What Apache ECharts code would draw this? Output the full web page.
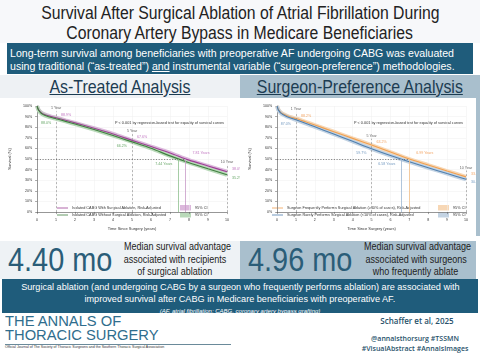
<!DOCTYPE html>
<html><head><meta charset="utf-8">
<script src="https://cdn.jsdelivr.net/npm/echarts@6/dist/echarts.min.js"></script>
<style>
html,body{margin:0;padding:0;background:#fff;}
#page{position:relative;width:480px;height:355px;overflow:hidden;background:#fff;font-family:"Liberation Sans",Arial,sans-serif;}
.abs{position:absolute;}
.sx{display:inline-block;white-space:nowrap;}
</style></head>
<body><div id="page">
  <div class="abs" style="left:0;top:0;width:480px;height:43px;background:#f7f8fa;"></div>
  <div class="abs" style="left:0;top:3px;width:480px;text-align:center;font-size:17.5px;line-height:20px;color:#222;">
    <span class="sx" style="transform:scaleX(0.9);">Survival After Surgical Ablation of Atrial Fibrillation During</span><br>
    <span class="sx" style="transform:scaleX(0.9);">Coronary Artery Bypass in Medicare Beneficiaries</span>
  </div>
  <div class="abs" style="left:7px;top:43px;width:466px;height:31px;background:#1f5c7b;"></div>
  <div class="abs" style="left:10px;top:47px;font-size:10.6px;line-height:13px;color:#fff;">
    <span class="sx">Long-term survival among beneficiaries with preoperative AF undergoing CABG was evaluated</span><br>
    <span class="sx">using traditional (“as-treated”) <u>and</u> instrumental variable (“surgeon-preference”) methodologies.</span>
  </div>
  <div class="abs" style="left:0;top:75px;width:240px;height:23px;background:#eef1f4;"></div>
  <div class="abs" style="left:240px;top:75px;width:240px;height:161px;background:#a9bfcd;"></div>
  <div class="abs" style="left:0;top:75px;width:240px;text-align:center;font-size:18.5px;line-height:23px;color:#1c3c52;">
    <span class="sx" style="transform:scaleX(0.86);text-decoration:underline;">As-Treated Analysis</span></div>
  <div class="abs" style="left:240px;top:75px;width:240px;text-align:center;font-size:18.5px;line-height:23px;color:#1c3c52;">
    <span class="sx" style="transform:scaleX(0.86);text-decoration:underline;">Surgeon-Preference Analysis</span></div>
  <div id="c1" class="abs" style="left:0;top:98px;width:240px;height:138px;background:#fff;"></div>
  <div id="c2" class="abs" style="left:240px;top:98px;width:236px;height:138px;background:#fff;"></div>
  <div class="abs" style="left:0;top:241px;width:240px;height:38px;background:#eef2f5;"></div>
  <div class="abs" style="left:240px;top:241px;width:236px;height:38px;background:#a9bfcd;"></div>
  <div class="abs" style="left:8px;top:239px;font-size:34px;line-height:40px;color:#2a5d78;">
    <span class="sx" style="transform:scaleX(0.85);transform-origin:left center;">4.40 mo</span></div>
  <div class="abs" style="left:118px;top:241px;width:114px;text-align:center;font-size:10px;line-height:12.7px;color:#222;">
    <span class="sx" style="transform:scaleX(0.9);">Median survival advantage</span><br>
    <span class="sx" style="transform:scaleX(0.9);">associated with recipients</span><br>
    <span class="sx" style="transform:scaleX(0.9);">of surgical ablation</span></div>
  <div class="abs" style="left:248px;top:239px;font-size:34px;line-height:40px;color:#2a5d78;">
    <span class="sx" style="transform:scaleX(0.85);transform-origin:left center;">4.96 mo</span></div>
  <div class="abs" style="left:358px;top:241px;width:116px;text-align:center;font-size:10px;line-height:12.7px;color:#222;">
    <span class="sx" style="transform:scaleX(0.9);">Median survival advantage</span><br>
    <span class="sx" style="transform:scaleX(0.9);">associated with surgeons</span><br>
    <span class="sx" style="transform:scaleX(0.9);">who frequently ablate</span></div>
  <div class="abs" style="left:2px;top:279px;width:476px;height:34px;background:#1f5c7b;"></div>
  <div class="abs" style="left:2px;top:281px;width:476px;text-align:center;font-size:9.5px;line-height:11.5px;color:#fff;">
    <span class="sx" style="transform:scaleX(0.96);">Surgical ablation (and undergoing CABG by a surgeon who frequently performs ablation) are associated with</span><br>
    <span class="sx" style="transform:scaleX(0.96);">improved survival after CABG in Medicare beneficiaries with preoperative AF.</span><br>
    <span class="sx" style="font-size:6px;line-height:8px;font-style:italic;">(AF, atrial fibrillation; CABG, coronary artery bypass grafting)</span></div>
  <div class="abs" style="left:5px;top:314px;font-size:15.5px;line-height:14px;color:#2f6d8d;">
    <span class="sx" style="transform:scaleX(0.95);transform-origin:left center;">THE ANNALS OF</span><br>
    <span class="sx" style="transform:scaleX(0.95);transform-origin:left center;">THORACIC SURGERY</span></div>
  <div class="abs" style="left:5px;top:344px;width:226px;height:0;border-top:0.6px solid #6a8a9a;"></div>
  <div class="abs" style="left:5px;top:345px;font-size:3.6px;line-height:5px;color:#333;">Official Journal of The Society of Thoracic Surgeons and the Southern Thoracic Surgical Association</div>
  <div class="abs" style="left:360px;top:316px;width:114px;text-align:center;font-family:'Open Sans',sans-serif;font-size:8px;line-height:10px;color:#27516a;font-weight:600;">Schaffer et al, 2025</div>
  <div class="abs" style="left:356px;top:334px;width:118px;text-align:center;font-family:'Open Sans',sans-serif;font-size:7px;line-height:10px;color:#27516a;font-weight:600;">@annalsthorsurg #TSSMN<br>#VisualAbstract #AnnalsImages</div>
</div>
<script>
// ---- data ----
const years = [0,0.05,0.1,0.2,0.3,0.5,0.75,1,1.5,2,3,4,5,6,7,8,9,10];
const leftAblation   = [100,97.4,95.9,94.0,92.8,91.3,90.0,88.9,86.5,84.1,79.0,73.6,67.6,61.8,55.8,49.0,43.5,38.0];
const leftNoAblation = [100,97.1,95.5,93.4,92.1,90.5,89.1,88.0,85.5,83.0,77.8,72.2,66.2,60.1,53.0,46.6,40.8,35.2];
const rightFrequent  = [100,97.3,95.8,93.8,92.6,91.0,89.4,88.2,85.1,82.0,75.8,69.5,63.2,56.6,50.0,44.3,38.7,33.2];
const rightRare      = [100,97.0,95.4,93.2,92.0,90.2,88.5,87.0,83.7,80.4,73.6,66.7,59.7,53.3,47.4,41.8,36.3,30.9];
const markYears = [1,5,10];
const markYearLabels = ['1 Year','5 Year','10 Year'];
const leftAblationLabels   = ['88.9%','67.6%','38.0%'];
const leftNoAblationLabels = ['88.0%','66.2%','35.2%'];
const rightFrequentLabels  = ['88.2%','63.2%','33.2%'];
const rightRareLabels      = ['87.0%','59.7%','30.9%'];
const leftMedians  = [7.81, 7.44];
const rightMedians = [6.99, 6.58];
const leftMedianLabels  = ['7.81 Years','7.44 Years'];
const rightMedianLabels = ['6.99 Years','6.58 Years'];
const yTicks = [0,10,20,30,40,50,60,70,80,90,100];
const xTicks = [0,1,2,3,4,5,6,7,8,9,10];
const pText = 'P < 0.001 by regression-based test for equality of survival curves';
const leftLegend  = ['Isolated CABG With Surgical Ablation, Risk-Adjusted','Isolated CABG Without Surgical Ablation, Risk-Adjusted'];
const rightLegend = ['Surgeon Frequently Performs Surgical Ablation (≥40% of cases), Risk-Adjusted','Surgeon Rarely Performs Surgical Ablation (<10% of cases), Risk-Adjusted'];

function valAt(arr, t){ const i = years.indexOf(t); return arr[i]; }

function build(el, A, B, Alab, Blab, med, medLab, legendTxt, col, gridLeft, gridRight, legendX, ciX){
  const chart = echarts.init(el, null, {renderer:'canvas'});
  const pairs = a => years.map((t,i)=>[t,a[i]]);
  const fs = 3.6;
  const series = [];
  [[A,col.a,col.aBand],[B,col.b,col.bBand]].forEach(([arr,c,band])=>{
    series.push({type:'line',data:pairs(arr),symbol:'none',smooth:0.25,lineStyle:{color:band,width:4},silent:true,z:2});
    series.push({type:'line',data:pairs(arr),symbol:'none',smooth:0.25,lineStyle:{color:c,width:1.1},z:3});
  });
  const ml = [];
  markYears.forEach(t=>{
    const top = Math.max(valAt(A,t),valAt(B,t)) + 6;
    ml.push([{coord:[t,0],lineStyle:{color:'#888',type:[2,2],width:0.6}},{coord:[t,top]}]);
  });
  ml.push([{coord:[0,50],lineStyle:{color:'#555',type:[1.2,1.5],width:0.7}},{coord:[Math.max(...med),50]}]);
  ml.push([{coord:[med[0],0],lineStyle:{color:col.aMed,type:'solid',width:0.8}},{coord:[med[0],50]}]);
  ml.push([{coord:[med[1],0],lineStyle:{color:col.bMed,type:'solid',width:0.8}},{coord:[med[1],50]}]);
  series.push({type:'line',data:[],markLine:{symbol:'none',silent:true,label:{show:false},data:ml}});
  const ann = [];
  markYears.forEach((t,i)=>{
    const top = Math.max(valAt(A,t),valAt(B,t)) + 6;
    ann.push({value:[t,top],label:{formatter:markYearLabels[i],position:'top',distance:1,color:'#333'}});
    ann.push({value:[t,valAt(A,t)],label:{formatter:Alab[i],position:'right',offset:[0,-3],color:col.aTxt}});
    ann.push({value:[t,valAt(B,t)],label:{formatter:Blab[i],position:i===2?'right':'left',offset:i===2?[0,3]:[0,4],color:col.bTxt}});
  });
  ann.push({value:[med[0],50],label:{formatter:medLab[0],position:'right',offset:[2,-6],color:col.aTxt}});
  ann.push({value:[med[1],50],label:{formatter:medLab[1],position:'left',offset:[-1,5],color:col.bTxt}});
  series.push({type:'scatter',data:ann,symbolSize:0,silent:true,z:5,label:{show:true,fontSize:fs,fontFamily:'Liberation Sans'}});

  chart.setOption({
    animation:false,
    grid:{left:gridLeft,right:gridRight,top:8,bottom:17},
    xAxis:{type:'value',min:0,max:10,interval:1,offset:3,
      name:'Time Since Surgery (years)',nameLocation:'middle',nameGap:10,
      nameTextStyle:{fontSize:4,color:'#333',fontFamily:'Liberation Sans'},
      axisLine:{lineStyle:{color:'#555',width:0.6}},axisTick:{length:2,lineStyle:{color:'#555',width:0.5}},
      axisLabel:{fontSize:fs,color:'#333',margin:3,formatter:v=>xTicks.includes(v)?String(v):''},
      splitLine:{show:true,lineStyle:{color:'#eeeeee',width:0.5}}},
    yAxis:{type:'value',min:0,max:100,interval:10,offset:2,
      name:'Survival (%)',nameLocation:'middle',nameGap:17,nameRotate:90,
      nameTextStyle:{fontSize:4,color:'#333',fontFamily:'Liberation Sans'},
      axisLine:{show:true,lineStyle:{color:'#555',width:0.6}},axisTick:{show:true,length:2,lineStyle:{color:'#555',width:0.5}},
      axisLabel:{fontSize:fs,color:'#333',margin:3,formatter:v=>yTicks.includes(v)?v+'%':''},
      splitLine:{show:true,lineStyle:{color:'#eeeeee',width:0.5}}},
    graphic:[
      {type:'text',right:gridRight+3,top:23,style:{text:pText,fontSize:3.8,fill:'#333',fontFamily:'Liberation Sans'}},
      {type:'line',shape:{x1:legendX,y1:110,x2:legendX+11,y2:110},style:{stroke:col.a,lineWidth:0.8}},
      {type:'line',shape:{x1:legendX,y1:117,x2:legendX+11,y2:117},style:{stroke:col.b,lineWidth:0.8}},
      {type:'text',left:legendX+15,top:108,style:{text:legendTxt[0],fontSize:3.8,fill:'#333',fontFamily:'Liberation Sans'}},
      {type:'text',left:legendX+15,top:115,style:{text:legendTxt[1],fontSize:3.8,fill:'#333',fontFamily:'Liberation Sans'}},
      {type:'rect',shape:{x:ciX,y:107,width:11,height:5.5},style:{fill:col.aBand}},
      {type:'rect',shape:{x:ciX,y:114,width:11,height:5.5},style:{fill:col.bBand}},
      {type:'text',left:ciX+15,top:108,style:{text:'95% CI',fontSize:3.8,fill:'#333',fontFamily:'Liberation Sans'}},
      {type:'text',left:ciX+15,top:115,style:{text:'95% CI',fontSize:3.8,fill:'#333',fontFamily:'Liberation Sans'}}
    ],
    series
  });
}
build(document.getElementById('c1'), leftAblation, leftNoAblation, leftAblationLabels, leftNoAblationLabels,
  leftMedians, leftMedianLabels, leftLegend,
  {a:'#9c3f94',b:'#3f7f3f',aBand:'#dcb8dc',bBand:'#b9d9b9',aMed:'#c89ac8',bMed:'#8fc08f',aTxt:'#b050b0',bTxt:'#3f8f3f'},
  31, 13, 57, 180);
build(document.getElementById('c2'), rightFrequent, rightRare, rightFrequentLabels, rightRareLabels,
  rightMedians, rightMedianLabels, rightLegend,
  {a:'#f0a050',b:'#4f7fae',aBand:'#f7d7b5',bBand:'#c3d3e3',aMed:'#f2c08a',bMed:'#9db8d3',aTxt:'#f09040',bTxt:'#4f7fb0'},
  30, 10, 32, 198);
</script></body></html>
